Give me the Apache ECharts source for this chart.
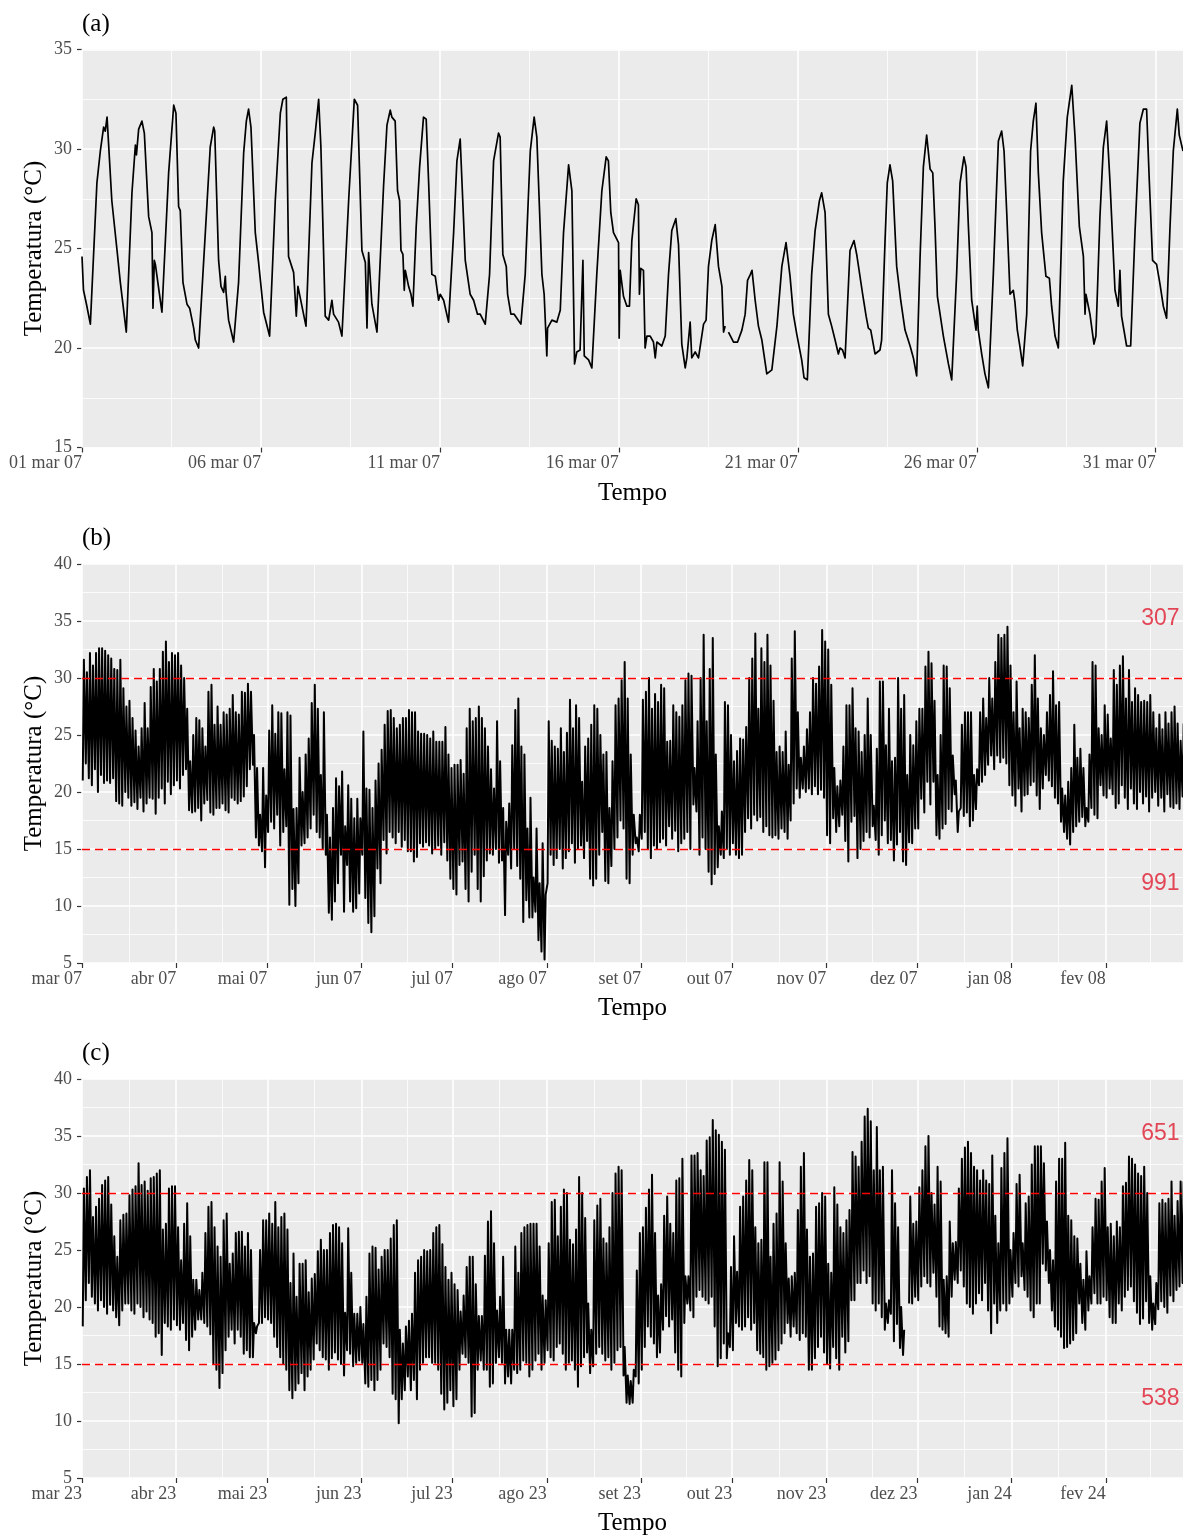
<!DOCTYPE html>
<html>
<head>
<meta charset="utf-8">
<script src="https://cdn.jsdelivr.net/npm/echarts@6/dist/echarts.min.js"></script>
<style>
  html, body { margin: 0; padding: 0; background: #ffffff; }
  #chart { width: 1183px; height: 1535px; }
</style>
</head>
<body>
<div id="chart"></div>
<script>
// ---------------------------------------------------------------------------
// (a) Hourly temperature, March 2007 — hours since 01 mar 07 00:00 and °C
// (null marks a missing reading)
// ---------------------------------------------------------------------------
const marchHours = [
  0, 1, 3, 5.6, 10, 12.3, 14.5, 15.6, 16.8, 20, 23.5, 25.7, 29.7,
  33.5, 35.8, 36.5, 38, 40.2, 41.8, 44.7, 46.9, 47.6, 48.5, 49.2, 53.6,
  58.1, 61.5, 63, 64.8, 65.9, 67.7, 70.4, 72.2, 74.9, 76, 78.2,
  82.7, 86, 88.3, 89, 91.6, 93.2, 95, 96.1, 96.6, 98.3, 101.7,
  105, 108.4, 110.2, 111.7, 113.3, 116.2, 118.4, 121.8, 125.8,
  129.6, 133, 134.7, 137, 138.5, 141.9, 143.7, 144.8, 150.2,
  154.2, 156.4, 158.7, 160.2, 163.1, 165.4, 167.6, 168.7, 172, 174.3,
  178.8, 182.6, 184.8, 187.7, 190, 191.1, 192.2, 194.4, 197.8,
  202.2, 204.5, 206.7, 207.8, 210, 211.6, 213, 213.9, 215.2, 216.1, 216.8, 218, 219, 220.6, 221.9,
  224.1, 226.4, 229, 230.8, 232.4, 234.6, 236.9, 239.1, 240.2, 242.5, 245.8,
  249.2, 251.4, 253.6, 254.7, 257, 260.3, 262.6, 265.2, 267, 270.4,
  273.3, 276, 277.1, 279.3, 280.4, 282.2, 284.5, 285.4, 287.6, 289.8, 294.3,
  297.2, 300.6, 303.2, 305, 308.4, 309.9, 311.7, 312.2, 315.1, 318.4, 320.7,
  322.9, 326.3, 328.5, 330.3, 331.8, 334, 335.9, 336.8, 339.7, 341.9,
  345.2, 348.6, 351.5, 353, 354.6, 356.4, 359.8, 360.2, 360.9, 363.1, 365.4, 367.1,
  368.7, 371.6, 373.1, 373.8, 374.7, 376.5, 377.6, 378.8, 381, 383.2, 384.4, 385.5, 388.8,
  391.1, 393.3, 395.5, 398.2, 400, 402.2, 404.5, 405.6, 407.8, 408.9, 411.2, 413.4,
  416.8, 418.5, 420.1, 422.3, 424.6, 426.8, 429.1, 430.2, 431.3, 432.4, 433.5, 436.9, 439.6, 442.5, 444.7,
  446.3, 448.2, 449.3, 451.4, 453.6, 455.9, 459.2, 462.6,
  466, 469.3, 472.1, 473, 474.8, 477, 479.3, 480.4, 482.6, 484.2, 486.4,
  489.3, 491.6, 494.5, 496, 498.3, 500.5, 502.7, 505, 507.2, 508.3, 510, 511.7,
  515, 517.7, 519.5, 523.5, 525.8, 527.3, 528.9, 531.8, 535.1, 536.2,
  538.5, 540, 541.8, 543.6, 546.3, 549, 551.9, 555.3, 557.5, 559.7,
  562, 564.2, 566.4, 568.7, 570.5, 572, 573.6, 575.4, 577.6, 581, 583.2, 584.3,
  586.5, 588.8, 591.4, 592.8, 594.4, 596.6, 599.5, 600.3, 601, 603.3, 605.5, 607.8,
  611.1, 614.5, 616.7, 618.3, 620.1, 622.3, 624.5, 625.6, 627.2, 628.9, 630.8,
  633.5, 636.1, 637.9, 639.7, 641.3, 643.5, 646.4, 648.7, 650.2, 652.5, 654.7,
  658, 660.7, 663.7, 665.9, 668.8, 671.5, 672.6, 673.2, 675.9, 678.6, 679.9,
  682.6, 684.9, 687.1, 689.3, 692.7, 694.9, 696, 697.1, 700.5, 703.2,
  706.1, 709.4, 711.7, 713.9, 715.7, 717.9, 720.6, 722.9, 725.1, 727.3,
  729.6, 731.8, 734.5, 735.8, 738.3
];
const marchTemps = [
  24.6, 22.9, 22.2, 21.2, 28.3, 29.9, 31.1, 30.9, 31.6, 27.4, 24.9, 23.3, 20.8,
  27.8, 30.2, 29.7, 31.0, 31.4, 30.8, 26.6, 25.8, 22.0, 24.4, 24.2, 21.8,
  28.8, 32.2, 31.8, 27.1, 26.9, 23.3, 22.2, 22.0, 21.0, 20.4, 20.0,
  25.8, 30.1, 31.1, 30.9, 24.4, 23.1, 22.8, 23.6, 22.8, 21.4, 20.3,
  23.3, 29.8, 31.4, 32.0, 31.1, 25.8, 24.3, 21.8, 20.6,
  27.4, 31.8, 32.5, 32.6, 24.6, 23.8, 21.6, 23.1, 21.1,
  29.3, 30.8, 32.5, 30.1, 21.6, 21.4, 22.4, 21.7, 21.3, 20.6,
  27.4, 32.5, 32.2, 24.9, 24.3, 21.0, 24.8, 22.2, 20.8,
  28.1, 31.2, 31.95, 31.6, 31.4, 27.9, 27.4, 24.9, 24.7, 22.9, 23.9, 23.9, 23.1, 22.7, 22.1,
  26.1, 29.1, 31.6, 31.5, 28.4, 23.7, 23.6, 22.4, 22.7, 22.4, 21.3,
  25.8, 29.4, 30.5, 30.4, 24.4, 22.7, 22.4, 21.7, 21.7, 21.2,
  23.7, 29.4, 29.5, 30.8, 30.6, 24.7, 24.1, 22.7, 21.7, 21.7, 21.2,
  23.7, 29.9, 31.6, 30.6, 23.7, 22.7, 19.6, 21.0, 21.4, 21.3, 21.9,
  25.8, 29.2, 27.9, 19.2, 19.8, 19.9, 24.4, 19.6, 19.4, 19.0,
  23.7, 27.9, 29.6, 29.4, 26.8, 25.8, 25.3, 20.5, 23.9, 22.6, 22.1, 22.1,
  25.4, 27.5, 27.2, 22.7, 24.0, 23.9, 20.0, 20.6, 20.6, 20.3, 19.5, 20.3, 20.1,
  20.6, 23.7, 25.9, 26.5, 25.2, 20.2, 19.0, 19.5, 21.3, 19.5, 19.8, 19.5,
  21.2, 21.4, 24.1, 25.4, 26.2, 24.1, 23.1, 20.8, 21.1, null, 20.8, 20.3, 20.3, 20.9, 21.7,
  23.4, 23.7, 23.9, 22.4, 21.1, 20.4, 18.7, 18.9,
  21.1, 24.1, 25.3, 25.2, 23.6, 21.7, 20.7, 20.6, 19.4, 18.5, 18.4,
  23.7, 25.9, 27.4, 27.8, 26.8, 21.7, 21.1, 20.4, 19.7, 20.0, 19.9, 19.5,
  24.9, 25.4, 24.7, 22.7, 21.6, 21.0, 20.9, 19.7, 19.9, 20.4,
  25.4, 28.3, 29.2, 28.4, 24.1, 22.4, 20.9, 20.1, 19.5, 18.6,
  24.6, 29.1, 30.7, 29.0, 28.8, 26.1, 22.6, 21.7, 20.6, 19.2, 18.4, 18.5,
  23.7, 28.3, 29.6, 29.1, 26.1, 22.4, 20.9, 22.1, 20.9, 19.7, 18.7, 18.0,
  23.7, 30.4, 30.9, 29.9, 26.8, 22.7, 22.9, 22.3, 20.9, 20.1, 19.1,
  21.7, 29.9, 31.4, 32.3, 28.8, 25.8, 23.6, 23.5, 22.1, 20.6, 20.0,
  28.4, 31.6, 33.2, 30.6, 26.1, 24.6, 21.7, 22.7, 21.7, 20.2, 20.6,
  26.6, 30.1, 31.4, 28.4, 22.9, 22.1, 23.9, 21.6, 20.1, 20.1,
  25.8, 31.3, 32.0, 32.0, 28.4, 24.4, 24.2, 23.2, 22.1, 21.5,
  26.1, 29.9, 32.0, 30.7, 29.9
];
const marchEndHour = 738.3;
const marchTickHours = [0, 120, 240, 360, 480, 600, 720];
const marchTickLabels = ['01 mar 07', '06 mar 07', '11 mar 07', '16 mar 07', '21 mar 07', '26 mar 07', '31 mar 07'];
const marchMinorHours = [60, 180, 300, 420, 540, 660];

// ---------------------------------------------------------------------------
// (b) Mar 2007 – Feb 2008, daily minimum and maximum (°C), day 0 = 01 mar 07
// ---------------------------------------------------------------------------
const year07Max = [
  31.6, 30.5, 32.2, 31.1, 32.2, 32.6, 32.6, 32.4, 32.0, 31.7,
  30.8, 30.7, 31.6, 29.1, 27.5, 28.0, 26.5, 25.4, 24.0, 25.6,
  27.8, 25.6, 29.2, 30.8, 29.7, 30.8, 32.3, 33.2, 31.4, 32.2,
  32.0, 32.2, 31.1, 30.0, 27.3, 22.7, 25.0, 26.5, 26.3, 25.6,
  24.0, 28.8, 29.4, 25.9, 27.5, 25.9, 27.0, 26.8, 27.3, 28.5,
  27.0, 26.8, 28.8, 28.7, 29.5, 28.8, 25.0, 22.1, 18.0, 22.1,
  19.7, 25.4, 27.6, 25.1, 27.0, 26.9, 22.0, 27.0, 26.7, 18.5,
  18.6, 23.0, 20.0, 23.3, 24.7, 27.8, 29.4, 27.3, 21.5, 27.0,
  18.0, 16.0, 18.6, 21.2, 20.5, 21.8, 17.0, 20.6, 19.4, 17.7,
  19.4, 17.7, 25.3, 20.3, 20.2, 18.6, 21.0, 22.5, 23.7, 25.9,
  27.1, 27.2, 26.5, 25.6, 25.9, 26.5, 26.5, 27.2, 27.0, 27.0,
  25.3, 25.1, 25.1, 25.0, 24.7, 25.3, 24.4, 24.4, 24.4, 25.7,
  23.3, 22.1, 22.4, 22.4, 22.8, 21.6, 25.6, 27.3, 26.2, 26.5,
  27.5, 26.5, 25.6, 24.0, 22.0, 20.3, 26.2, 22.7, 18.6, 17.4,
  19.0, 24.1, 27.2, 28.2, 24.0, 23.3, 16.8, 19.5, 12.5, 16.8,
  12.0, 15.5, 11.0, 26.2, 24.5, 24.0, 23.8, 25.6, 23.5, 25.2,
  28.1, 25.6, 27.6, 26.5, 20.9, 24.0, 24.7, 25.9, 27.6, 27.3,
  25.0, 23.3, 23.5, 18.6, 22.7, 27.6, 28.2, 29.8, 31.4, 28.2,
  23.3, 18.0, 16.0, 18.0, 28.1, 28.8, 30.0, 27.3, 28.6, 27.9,
  29.4, 29.1, 24.4, 24.5, 27.6, 27.0, 26.6, 27.6, 29.8, 30.4,
  30.2, 22.1, 26.2, 30.0, 33.8, 26.2, 30.8, 33.5, 23.3, 17.0,
  18.3, 27.9, 27.6, 25.0, 22.7, 23.6, 24.7, 24.6, 25.7, 30.0,
  31.7, 33.9, 27.3, 32.6, 31.4, 33.8, 31.1, 28.0, 23.5, 24.0,
  23.5, 25.3, 22.4, 31.7, 34.1, 27.0, 23.0, 24.0, 25.5, 27.0,
  30.0, 29.5, 31.0, 34.2, 33.2, 32.5, 29.4, 22.1, 20.5, 21.0,
  24.0, 27.6, 27.6, 29.1, 25.6, 25.3, 23.5, 25.0, 28.2, 25.0,
  18.8, 23.8, 29.7, 29.7, 24.1, 27.3, 22.7, 23.0, 30.0, 27.3,
  28.5, 21.5, 25.0, 24.1, 26.2, 27.3, 27.3, 31.0, 32.3, 31.3,
  28.0, 21.5, 25.0, 31.1, 31.0, 29.1, 23.2, 21.0, 18.3, 25.9,
  27.0, 27.0, 27.0, 21.5, 22.0, 27.0, 28.2, 26.5, 30.0, 28.2,
  31.4, 33.8, 33.5, 33.8, 34.5, 31.1, 27.0, 29.7, 25.6, 27.3,
  27.0, 26.5, 29.4, 32.0, 28.2, 25.6, 25.0, 27.0, 28.5, 30.6,
  27.6, 27.9, 20.3, 19.7, 20.9, 22.1, 25.9, 23.0, 23.8, 22.1,
  18.6, 23.3, 31.4, 31.1, 25.6, 25.0, 27.6, 26.8, 24.7, 30.7,
  29.4, 31.1, 31.9, 28.2, 30.7, 27.9, 29.1, 28.5, 27.9, 28.0,
  27.9, 28.5, 27.0, 25.6, 26.8, 25.5, 27.0, 26.0, 27.0, 27.5,
  26.0, 24.5, 26.0
];
const year07Min = [
  21.0, 22.5, 21.2, 20.6, 22.0, 20.0, 21.5, 20.8, 21.0, 20.8,
  21.2, 19.2, 19.0, 18.8, 20.0, 19.5, 18.8, 19.1, 18.5, 19.5,
  18.3, 19.0, 19.5, 19.4, 18.1, 19.5, 20.3, 19.0, 20.9, 19.8,
  20.6, 21.0, 20.3, 21.5, 22.0, 18.4, 18.2, 18.3, 18.6, 17.5,
  19.0, 19.3, 18.2, 18.0, 18.6, 18.6, 19.0, 18.4, 18.2, 19.5,
  19.3, 19.0, 19.2, 19.6, 20.5, 22.0, 22.4, 16.0, 15.3, 14.8,
  13.4, 16.5, 17.4, 16.8, 18.0, 15.3, 16.5, 17.0, 10.1, 11.5,
  10.0, 12.0, 15.3, 15.5, 16.0, 16.8, 18.0, 16.5, 16.0, 15.0,
  14.5, 9.4, 8.8, 10.4, 12.0, 14.5, 9.5, 13.6, 10.4, 9.5,
  9.8, 11.1, 14.5, 10.7, 8.5, 7.7, 9.1, 13.3, 12.0, 15.8,
  14.6, 16.5, 16.0, 15.5, 16.5, 15.2, 15.8, 14.8, 14.8, 13.9,
  14.3, 15.5, 15.2, 15.6, 15.3, 14.6, 15.0, 15.3, 14.5, 15.6,
  14.0, 12.4, 11.5, 11.0, 13.6, 13.9, 11.5, 10.4, 13.0, 14.5,
  11.5, 10.4, 12.6, 14.0, 14.6, 14.5, 15.0, 13.8, 14.0, 9.2,
  14.5, 13.3, 15.0, 13.5, 12.4, 8.6, 10.5, 9.0, 9.0, 9.5,
  7.0, 6.0, 5.3, 12.0, 14.5, 13.6, 14.2, 15.0, 13.3, 14.2,
  14.8, 15.5, 13.8, 15.0, 15.3, 14.2, 15.7, 12.4, 11.8, 12.4,
  14.5, 16.5, 12.2, 12.0, 13.5, 15.0, 16.0, 17.5, 16.8, 12.4,
  12.0, 14.5, 15.5, 14.8, 15.9, 16.5, 15.0, 14.2, 15.3, 15.0,
  15.6, 15.9, 15.3, 17.0, 15.9, 16.6, 14.8, 15.5, 15.9, 16.5,
  15.0, 18.9, 18.3, 14.5, 16.0, 15.0, 13.0, 11.9, 12.8, 13.4,
  14.5, 14.2, 15.0, 14.5, 15.5, 14.5, 14.2, 14.5, 16.5, 17.7,
  16.8, 18.0, 17.5, 17.8, 16.5, 17.0, 16.2, 16.0, 16.2, 15.9,
  16.8, 16.5, 15.9, 17.5, 19.0, 20.3, 19.5, 20.3, 20.0, 20.3,
  19.8, 20.5, 19.8, 20.2, 19.5, 16.2, 15.5, 17.7, 16.5, 17.0,
  18.0, 15.7, 13.9, 17.4, 17.9, 14.2, 15.0, 15.7, 16.5, 16.0,
  17.0, 15.8, 14.5, 16.2, 17.5, 15.5, 15.8, 14.0, 15.4, 16.5,
  13.9, 13.6, 15.6, 15.5, 16.8, 16.8, 19.4, 18.2, 20.9, 18.9,
  20.9, 16.2, 15.9, 16.8, 17.2, 18.5, 18.3, 19.8, 16.5, 18.6,
  17.9, 18.2, 17.0, 17.5, 18.5, 20.6, 20.9, 21.5, 22.4, 23.2,
  22.0, 23.2, 22.6, 23.0, 22.5, 20.6, 19.7, 18.8, 20.3, 18.3,
  19.7, 19.8, 20.6, 20.9, 19.7, 18.5, 20.3, 21.5, 21.0, 20.5,
  19.5, 19.0, 17.4, 16.5, 15.9, 15.4, 16.5, 17.0, 17.4, 17.8,
  17.0, 17.4, 18.6, 18.0, 17.7, 20.6, 19.7, 19.5, 20.3, 19.8,
  18.6, 19.0, 20.6, 19.5, 18.5, 20.3, 19.0, 18.5, 20.0, 19.0,
  19.6, 18.3, 19.5, 20.0, 18.8, 19.5, 18.3, 19.8, 18.7, 18.6,
  19.0, 18.5, 19.6
];

// ---------------------------------------------------------------------------
// (c) Mar 2023 – Feb 2024, daily minimum and maximum (°C), day 0 = 01 mar 23
// (null marks a day without readings)
// ---------------------------------------------------------------------------
const year23Max = [
  30.4, 31.4, 32.0, 27.9, 28.8, 29.5, 30.7, 31.1, 31.4, 29.0,
  26.2, 24.4, 27.6, 28.1, 28.2, 29.8, 30.3, 30.6, 32.6, 30.7,
  31.0, 30.2, 31.3, 31.4, 31.7, 32.0, 26.8, 27.3, 30.4, 30.6,
  30.6, 27.0, 24.1, 27.3, 29.1, 26.2, 22.4, 22.4, 21.5, 23.0,
  26.5, 28.8, 29.2, 27.0, 25.3, 24.4, 27.6, 28.2, 23.8, 24.7,
  26.5, 26.6, 26.6, 25.3, 26.5, 25.0, 18.6, 18.3, 25.0, 27.6,
  27.6, 28.2, 27.3, 29.2, 27.0, 27.9, 28.2, 26.8, 22.1, 24.7,
  20.9, 23.8, 23.8, 24.1, 21.3, 22.5, 22.9, 24.9, 25.9, 25.0,
  25.0, 26.5, 27.2, 27.3, 27.0, 25.6, 19.5, 26.9, 23.0, 19.4,
  19.4, 20.0, 18.5, 20.9, 24.7, 25.3, 25.2, 23.3, 24.4, 25.0,
  25.0, 26.0, 27.2, 27.6, 18.0, 16.8, 18.3, 18.8, 19.4, 23.0,
  24.1, 24.4, 25.0, 24.9, 25.0, 26.5, 27.0, 27.2, 25.5, 23.5,
  22.4, 23.0, 22.0, 21.5, 19.6, 21.0, 23.5, 24.4, 24.4, 22.0,
  19.2, 19.2, 24.5, 27.5, 28.4, 25.6, 19.7, 20.9, 24.4, 18.0,
  18.0, 18.0, 25.3, 23.0, 26.5, 27.0, 27.2, 27.3, 27.3, 27.3,
  25.3, 21.0, 20.6, 25.6, 29.2, 29.4, 26.2, 28.8, 30.3, 30.0,
  25.9, 25.5, 26.8, 31.4, 30.0, 27.8, 20.3, 18.0, 27.6, 28.9,
  29.5, 26.0, 25.6, 27.0, 30.0, 31.7, 32.3, 32.0, 16.5, 14.0,
  13.5, 14.5, 23.2, 26.5, 27.0, 28.7, 30.3, 31.6, 26.5, 21.0,
  22.0, 28.0, 29.7, 27.3, 26.5, 31.1, 31.3, 33.0, 22.7, 22.7,
  33.3, 33.3, 33.5, 32.0, 31.5, 34.6, 34.9, 36.4, 35.5, 35.1,
  34.5, 33.8, 17.7, 23.5, 26.2, 23.1, 28.8, 29.7, 31.1, 32.9,
  32.0, 27.0, 25.6, 25.9, 32.7, 32.7, 24.4, 27.3, 28.2, 32.7,
  31.0, 25.6, 22.5, 22.7, 23.0, 28.5, 32.3, 33.5, 26.8, 24.4,
  24.7, 28.8, 29.1, 30.0, 29.7, 23.8, 23.0, 30.5, 29.0, 27.0,
  26.5, 27.6, 28.5, 33.6, 33.2, 32.3, 34.5, 36.7, 37.4, 36.3,
  32.0, 35.8, 32.0, 32.3, 20.3, 20.6, 32.0, 29.1, 27.0, 20.0,
  18.0, null, 29.7, 27.3, 27.5, 30.5, 32.0, 34.1, 35.0, 30.0,
  29.0, 32.3, 31.0, 22.4, 22.7, 27.5, 25.6, 25.7, 30.4, 33.0,
  34.0, 34.5, 33.5, 32.3, 32.0, 31.1, 32.0, 31.1, 30.8, 33.3,
  28.0, 25.6, 32.2, 33.5, 34.8, 25.0, 26.5, 30.8, 31.6, 25.6,
  29.1, 29.7, 32.5, 34.1, 34.1, 34.1, 32.6, 27.5, 25.0, 24.1,
  31.0, 33.0, 33.0, 34.4, 28.0, 27.6, 26.2, 26.0, 23.8, 22.4,
  24.9, 22.7, 27.0, 29.5, 29.4, 31.0, 32.2, 27.0, 27.3, 26.2,
  27.5, 27.0, 30.6, 30.9, 33.2, 33.0, 32.5, 31.7, 31.5, 32.3,
  30.0, 22.7, 20.3, 22.1, 29.1, 29.4, 29.1, 29.5, 31.0, 28.0,
  29.3, 31.0, 31.0
];
const year23Min = [
  18.3, 20.6, 22.1, 20.9, 20.3, 19.7, 20.6, 20.0, 19.4, 20.2,
  19.7, 19.1, 18.4, 19.7, 20.3, 20.3, 19.7, 19.4, 20.3, 20.0,
  19.1, 19.6, 18.9, 18.6, 17.4, 17.7, 15.8, 18.6, 18.3, 18.0,
  18.9, 18.4, 18.0, 18.6, 17.1, 16.2, 17.4, 18.0, 18.9, 18.9,
  18.6, 18.3, 17.6, 15.0, 14.5, 12.9, 14.2, 16.2, 17.4, 18.0,
  16.8, 18.0, 17.4, 15.9, 16.2, 15.6, 15.6, 17.7, 18.6, 18.6,
  19.1, 18.9, 18.6, 17.4, 16.5, 15.6, 15.0, 14.5, 12.7, 12.0,
  12.7, 13.3, 14.2, 12.7, 13.9, 14.5, 15.4, 16.8, 16.2, 15.6,
  15.4, 14.5, 15.5, 16.0, 15.4, 15.0, 14.0, 16.2, 15.9, 14.8,
  15.1, 15.3, 15.1, 13.3, 13.0, 13.6, 12.7, 13.6, 14.5, 16.8,
  16.5, 15.6, 12.4, 11.9, 9.8, 11.9, 12.7, 13.9, 12.7, 13.6,
  11.9, 14.5, 15.1, 15.6, 15.6, 15.1, 15.1, 14.5, 12.4, 11.0,
  11.6, 12.7, 11.3, 11.9, 14.5, 15.9, 15.6, 15.1, 10.4, 10.7,
  14.5, 15.3, 14.5, 14.5, 13.0, 13.3, 15.1, 15.6, 15.1, 13.3,
  13.9, 13.3, 14.5, 14.2, 14.5, 15.3, 15.1, 13.9, 14.5, 15.3,
  15.9, 14.5, 15.1, 16.2, 15.6, 15.3, 16.5, 16.8, 15.9, 14.5,
  15.1, 15.3, 14.5, 13.0, 14.8, 15.6, 16.0, 14.2, 14.8, 15.9,
  16.5, 15.9, 15.3, 15.6, 14.5, 15.1, 16.2, 16.5, 14.0, 11.6,
  11.5, 11.6, 13.9, 13.3, 14.5, 16.5, 18.3, 17.4, 16.8, 15.6,
  16.0, 18.0, 19.2, 18.3, 18.9, 16.0, 14.5, 13.9, 18.6, 20.3,
  19.7, 19.1, 20.9, 21.5, 20.9, 20.6, 20.3, 20.9, 18.3, 14.8,
  15.5, 16.8, 15.5, 16.5, 16.2, 18.6, 18.3, 18.0, 18.3, 19.1,
  18.0, 18.6, 16.2, 15.9, 15.6, 14.5, 14.8, 15.1, 15.4, 16.2,
  16.8, 17.7, 18.6, 17.4, 18.3, 17.7, 17.1, 17.7, 17.4, 14.5,
  14.5, 15.5, 16.5, 17.4, 16.0, 15.0, 14.6, 16.5, 15.5, 14.5,
  17.4, 16.0, 17.0, 20.6, 20.6, 22.1, 22.1, 23.2, 22.1, 22.7,
  20.3, 19.7, 20.3, 19.1, 18.0, 18.6, 19.4, 17.0, 18.5, 16.4,
  15.8, null, 20.3, 20.3, 20.9, 20.6, 21.8, 22.7, 22.1, 21.8,
  23.0, 20.9, 18.3, 18.0, 17.7, 17.4, 20.9, 22.4, 22.1, 23.2,
  21.8, 20.3, 20.0, 19.4, 20.3, 21.2, 20.6, 22.1, 19.7, 17.7,
  20.3, 18.6, 19.7, 20.3, 19.7, 20.3, 20.9, 22.1, 21.8, 22.7,
  21.5, 20.9, 19.7, 19.1, 20.3, 20.3, 23.8, 23.2, 22.1, 19.7,
  18.3, 18.0, 17.4, 16.4, 16.5, 16.8, 17.1, 17.7, 20.3, 18.6,
  18.0, 19.7, 20.3, 21.2, 20.3, 20.3, 20.9, 20.6, 19.1, 18.6,
  18.6, 20.3, 19.7, 20.9, 21.5, 21.8, 20.5, 19.5, 18.5, 19.0,
  20.5, 18.6, 18.0, 18.5, 19.8, 20.5, 20.0, 19.5, 21.0, 20.5,
  21.5, 21.8, 22.1
];

// Shared yearly axis: day offsets of each month start, mid-month minor lines
const yearEndDay = 362.4;
const monthStartDays = [0, 31, 61, 92, 122, 153, 184, 214, 245, 275, 306, 337];
const monthMidDays = [15.5, 46, 76.5, 107, 137.5, 168.5, 199, 229.5, 260, 290.5, 321.5, 351.5];
const monthLabels07 = ['mar 07', 'abr 07', 'mai 07', 'jun 07', 'jul 07', 'ago 07', 'set 07', 'out 07', 'nov 07', 'dez 07', 'jan 08', 'fev 08'];
const monthLabels23 = ['mar 23', 'abr 23', 'mai 23', 'jun 23', 'jul 23', 'ago 23', 'set 23', 'out 23', 'nov 23', 'dez 23', 'jan 24', 'fev 24'];

// Comfort band limits (°C) and hours spent above / below them
const comfortLimits = [30, 15];
const hoursOutside07 = [307, 991];
const hoursOutside23 = [651, 538];

// ---------------------------------------------------------------------------
// Styling
// ---------------------------------------------------------------------------
const SERIF = '"Liberation Serif", "Times New Roman", Times, serif';
const SANS = '"Liberation Sans", Arial, Helvetica, sans-serif';
const PANEL_BG = '#EBEBEB';
const GRID_WHITE = '#FFFFFF';
const TICK_TEXT = '#4D4D4D';
const TICK_LINE = '#333333';
const COUNT_RED = '#E01B30';

const panels = [
  { top: 49.5, height: 398, yMin: 15, yMax: 35, tag: '(a)' },
  { top: 564,  height: 399, yMin: 5,  yMax: 40, tag: '(b)' },
  { top: 1079, height: 399, yMin: 5,  yMax: 40, tag: '(c)' }
];

function labelLookup(ticks, labels) {
  return function (v) {
    const k = ticks.findIndex(t => Math.abs(t - v) < 1e-6);
    return k < 0 ? '' : labels[k];
  };
}

function makeXAxis(i, max, ticks, labels) {
  return {
    gridIndex: i, type: 'value', min: 0, max: max,
    axisLine: { show: false, onZero: false },
    axisTick: { show: true, customValues: ticks, length: 5, lineStyle: { color: TICK_LINE, width: 1.2 } },
    axisLabel: {
      customValues: ticks, formatter: labelLookup(ticks, labels), align: 'right',
      color: TICK_TEXT, fontFamily: SERIF, fontSize: 18, margin: 7
    },
    splitLine: { show: false },
    name: 'Tempo', nameLocation: 'middle', nameGap: 33, nameMoveOverlap: false,
    nameTextStyle: { color: '#000000', fontFamily: SERIF, fontSize: 25 }
  };
}

function makeYAxis(i) {
  const p = panels[i];
  return {
    gridIndex: i, type: 'value', min: p.yMin, max: p.yMax, interval: 5,
    axisLine: { show: false },
    axisTick: { show: true, length: 5, lineStyle: { color: TICK_LINE, width: 1.2 } },
    axisLabel: { color: TICK_TEXT, fontFamily: SERIF, fontSize: 18, margin: 10 },
    splitLine: { show: true, lineStyle: { color: GRID_WHITE, width: 1.6 } },
    minorTick: { show: false, splitNumber: 2 },
    minorSplitLine: { show: true, lineStyle: { color: GRID_WHITE, width: 0.8 } },
    name: 'Temperatura (°C)', nameLocation: 'middle', nameRotate: 90, nameGap: 35,
    nameMoveOverlap: false,
    nameTextStyle: { color: '#000000', fontFamily: SERIF, fontSize: 25 }
  };
}

// Vertical white grid lines (major at labelled dates, minor between them)
function verticalGrid(i, majors, minors) {
  return {
    type: 'line', xAxisIndex: i, yAxisIndex: i, data: [], z: 1, silent: true,
    markLine: {
      z: 1, silent: true, animation: false, symbol: ['none', 'none'],
      label: { show: false }, emphasis: { disabled: true },
      data: minors.map(v => ({ xAxis: v, lineStyle: { color: GRID_WHITE, width: 0.8, type: 'solid' } }))
        .concat(majors.map(v => ({ xAxis: v, lineStyle: { color: GRID_WHITE, width: 1.6, type: 'solid' } })))
    }
  };
}

function temperatureLine(i, points, width) {
  return {
    type: 'line', xAxisIndex: i, yAxisIndex: i, data: points, z: 3,
    symbol: 'none', showSymbol: false, silent: true, connectNulls: false,
    lineStyle: { color: '#000000', width: width, join: 'round' }
  };
}

function limitLines(i) {
  return {
    type: 'line', xAxisIndex: i, yAxisIndex: i, data: [], z: 6, silent: true,
    markLine: {
      z: 6, silent: true, animation: false, symbol: ['none', 'none'],
      label: { show: false }, emphasis: { disabled: true },
      lineStyle: { color: '#FF0000', width: 1.4, type: [8, 5] },
      data: comfortLimits.map(t => ({ yAxis: t }))
    }
  };
}

function hourCounts(i, counts) {
  return {
    type: 'scatter', xAxisIndex: i, yAxisIndex: i, z: 7, silent: true,
    symbolSize: 1, itemStyle: { color: 'rgba(0,0,0,0)' },
    data: [[yearEndDay, 35.2, counts[0]], [yearEndDay, 12.0, counts[1]]],
    label: {
      show: true, position: 'left', distance: 3,
      formatter: p => String(p.value[2]),
      color: COUNT_RED, fontFamily: SANS, fontSize: 23
    }
  };
}

// Hourly readings of (a) as [hour, °C]
const marchPoints = marchHours.map((h, k) => [h, marchTemps[k] == null ? '-' : marchTemps[k]]);

// Daily swing: minimum in the early morning, maximum in the afternoon
function dailySwing(mins, maxs) {
  const pts = [];
  mins.forEach((lo, d) => {
    const hi = maxs[d];
    if (lo == null || hi == null) { pts.push([d + 0.5, '-']); return; }
    pts.push([d + 0.25, lo], [d + 0.62, hi]);
  });
  return pts;
}

const chart = echarts.init(document.getElementById('chart'), null, { renderer: 'canvas', width: 1183, height: 1535 });

chart.setOption({
  animation: false,
  backgroundColor: '#FFFFFF',
  grid: panels.map(p => ({
    left: 82, width: 1101, top: p.top, height: p.height,
    show: true, backgroundColor: PANEL_BG, borderWidth: 0,
    containLabel: false, outerBoundsMode: 'none'
  })),
  xAxis: [
    makeXAxis(0, marchEndHour, marchTickHours, marchTickLabels),
    makeXAxis(1, yearEndDay, monthStartDays, monthLabels07),
    makeXAxis(2, yearEndDay, monthStartDays, monthLabels23)
  ],
  yAxis: [makeYAxis(0), makeYAxis(1), makeYAxis(2)],
  graphic: panels.map(p => ({
    type: 'text', left: 82, top: p.top - 38, silent: true,
    style: { text: p.tag, fill: '#000000', font: '25px ' + SERIF }
  })),
  series: [
    verticalGrid(0, marchTickHours, marchMinorHours),
    temperatureLine(0, marchPoints, 1.7),

    verticalGrid(1, monthStartDays, monthMidDays),
    temperatureLine(1, dailySwing(year07Min, year07Max), 2.0),
    limitLines(1),
    hourCounts(1, hoursOutside07),

    verticalGrid(2, monthStartDays, monthMidDays),
    temperatureLine(2, dailySwing(year23Min, year23Max), 2.0),
    limitLines(2),
    hourCounts(2, hoursOutside23)
  ]
});
</script>
</body>
</html>
